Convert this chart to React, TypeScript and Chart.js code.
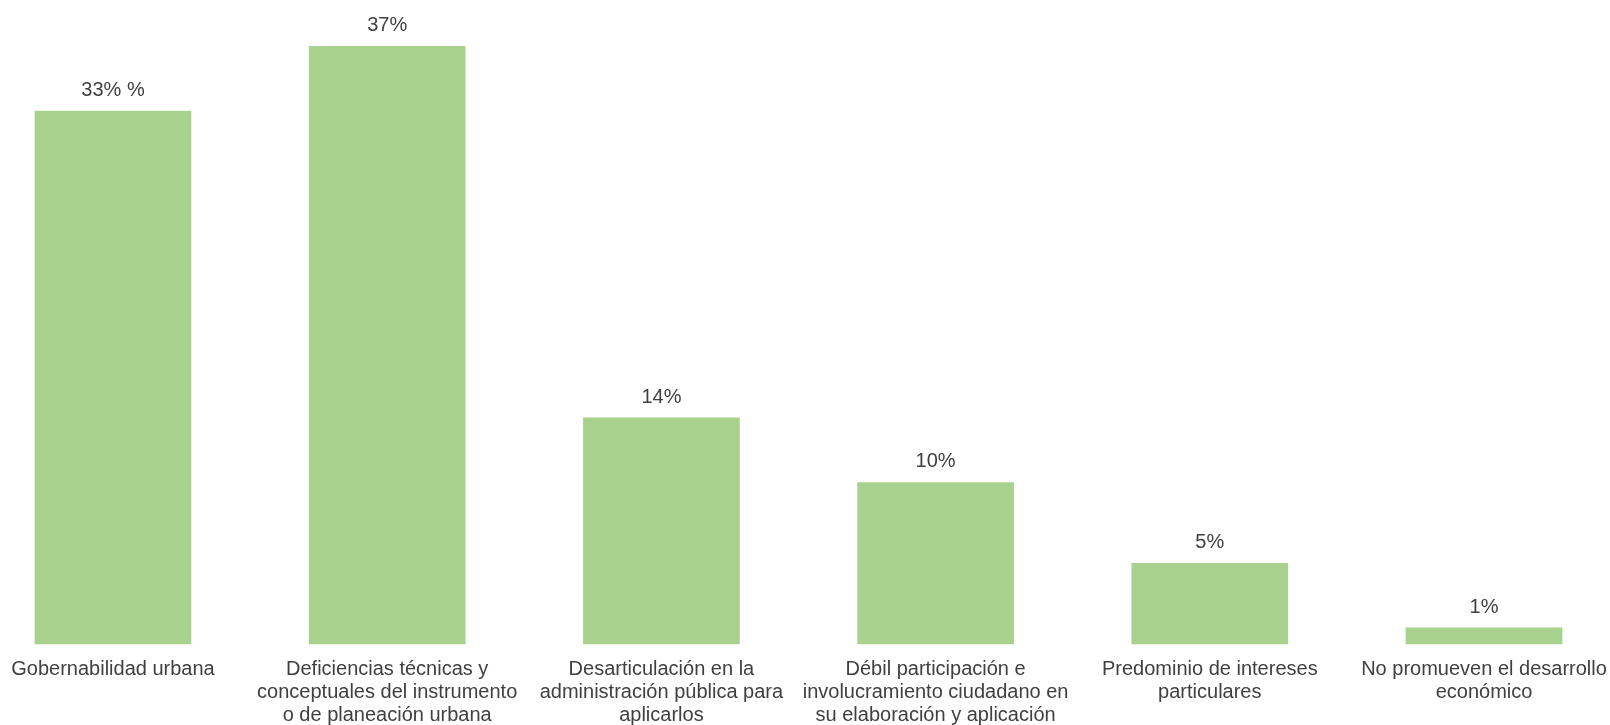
import React, { useEffect, useRef } from "react";
import { Chart, registerables } from "chart.js";

Chart.register(...registerables);

const categories: string[][] = [
  ["Gobernabilidad urbana"],
  ["Deficiencias técnicas y", "conceptuales del instrumento", "o de planeación urbana"],
  ["Desarticulación en la", "administración pública para", "aplicarlos"],
  ["Débil participación e", "involucramiento ciudadano en", "su elaboración y aplicación"],
  ["Predominio de intereses", "particulares"],
  ["No promueven el desarrollo", "económico"],
];
const values: number[] = [33, 37, 14, 10, 5, 1];
const valueLabels: string[] = ["33% %", "37%", "14%", "10%", "5%", "1%"];

const FONT = "'Liberation Sans', Arial, Helvetica, sans-serif";
const TEXT_COLOR = "#404040";

const dataLabelPlugin = {
  id: "dataLabelPlugin",
  afterDatasetsDraw(chart: any) {
    const ctx = chart.ctx;
    const meta = chart.getDatasetMeta(0);
    ctx.save();
    ctx.font = `20px ${FONT}`;
    ctx.fillStyle = TEXT_COLOR;
    ctx.textAlign = "center";
    ctx.textBaseline = "alphabetic";
    meta.data.forEach((el: any, i: number) => {
      ctx.fillText(valueLabels[i], el.x, el.y - 15);
    });
    ctx.restore();
  },
};

export default function App() {
  const ref = useRef<HTMLCanvasElement | null>(null);
  useEffect(() => {
    if (!ref.current) return;
    const chart = new Chart(ref.current, {
      type: "bar",
      data: {
        labels: categories,
        datasets: [
          {
            data: values,
            backgroundColor: "#A9D18E",
            borderWidth: 0,
            barThickness: 156,
            clip: false as any,
          },
        ],
      },
      options: {
        animation: false,
        responsive: false,
        maintainAspectRatio: false,
        layout: { padding: { left: 113, right: 126, top: 6, bottom: 0 } },
        plugins: {
          legend: { display: false },
          tooltip: { enabled: false },
        },
        scales: {
          x: {
            offset: false,
            grid: { display: false },
            border: { display: false },
            afterFit: (scale: any) => {
              scale.height = 81;
              scale.paddingLeft = 0;
              scale.paddingRight = 0;
            },
            ticks: {
              autoSkip: false,
              maxRotation: 0,
              minRotation: 0,
              padding: 6,
              color: TEXT_COLOR,
              font: { family: FONT, size: 20, lineHeight: 1.15 },
            },
          },
          y: {
            display: false,
            min: 0,
            max: 39.5,
          },
        },
      },
      plugins: [dataLabelPlugin],
    });
    return () => chart.destroy();
  }, []);
  return (
    <div style={{ position: "fixed", left: 0, top: 0, width: 1610, height: 725, background: "#fff" }}>
      <canvas ref={ref} width={1610} height={725} style={{ width: 1610, height: 725 }} />
    </div>
  );
}
